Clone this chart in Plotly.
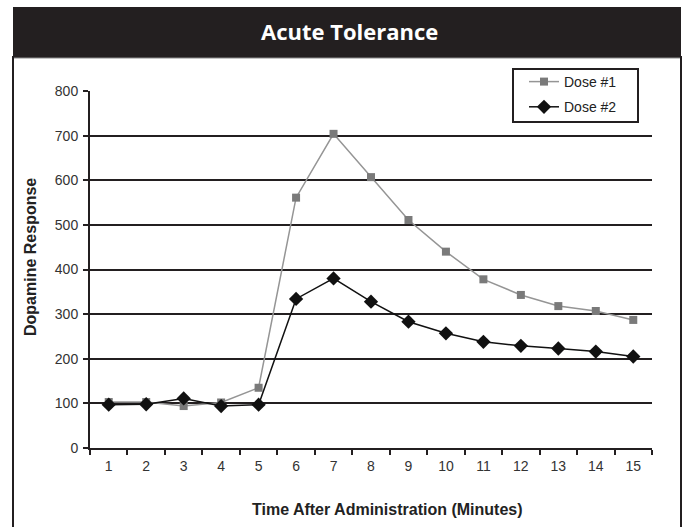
import plotly.graph_objects as go

# data
minutes = [str(m) for m in range(1, 16)]
dose1 = [103, 103, 94, 102, 135, 561, 704, 607, 511, 440, 378, 343, 318, 307, 287]
dose2 = [97, 98, 111, 94, 97, 334, 380, 328, 283, 257, 238, 229, 223, 216, 205]
y_ticks = [0, 100, 200, 300, 400, 500, 600, 700, 800]
grid_vals = [100, 200, 300, 400, 500, 600, 700]

FONT = "Liberation Sans, Arial, sans-serif"
DARK = "#231f20"

# plot area in pixels, used to place the frame and labels
PL, PR, PT, PB = 90, 652, 91, 448


def px(x):
    return (x - PL) / (PR - PL)


def py(y):
    return (PB - y) / (PB - PT)


fig = go.Figure()

fig.add_trace(go.Scatter(
    x=minutes, y=dose1, name="Dose #1", mode="lines+markers", legendgroup="a",
    line=dict(color="#959595", width=1.5),
    marker=dict(symbol="square", size=8, color="#7a7a7a"),
))
fig.add_trace(go.Scatter(
    x=minutes, y=dose2, name="Dose #2", mode="lines+markers", legendgroup="b",
    line=dict(color="#111111", width=1.5),
    marker=dict(symbol="diamond", size=11, color="#111111"),
))
# invisible trace that carries the gridline axis
fig.add_trace(go.Scatter(x=minutes, y=dose2, yaxis="y2", mode="none",
                         showlegend=False, hoverinfo="skip"))

fig.update_layout(
    width=684, height=527,
    margin=dict(l=PL, r=684 - PR, t=PT, b=527 - PB),
    paper_bgcolor="white", plot_bgcolor="white",
    font=dict(family=FONT, size=14, color="#333333"),
    xaxis=dict(
        type="category", tickson="boundaries", range=[-0.5, 14.5],
        showline=True, linecolor=DARK, linewidth=2,
        ticks="outside", ticklen=5, tickwidth=2, tickcolor=DARK,
        showgrid=False, zeroline=False, ticklabelstandoff=4,
        tickfont=dict(size=14, color="#333333"),
    ),
    yaxis=dict(
        range=[0, 800], tickvals=y_ticks,
        showline=True, linecolor=DARK, linewidth=2,
        ticks="outside", ticklen=5, tickwidth=2, tickcolor=DARK,
        showgrid=False, zeroline=False, ticklabelstandoff=2,
        tickfont=dict(size=14, color="#333333"),
    ),
    yaxis2=dict(
        overlaying="y", range=[0, 800], tickvals=grid_vals,
        showticklabels=False, showgrid=True, gridcolor=DARK, gridwidth=2,
        zeroline=False, showline=False,
    ),
    legend=dict(
        x=px(524), y=py(66), xanchor="left", yanchor="top",
        borderwidth=0, bgcolor="rgba(0,0,0,0)",
        font=dict(family=FONT, size=14, color="#222222"),
        itemwidth=30, tracegroupgap=4,
    ),
    showlegend=True,
)

# frame, title bar and legend box
fig.add_shape(type="rect", xref="paper", yref="paper",
              x0=px(13), x1=px(681), y0=py(540), y1=py(57),
              line=dict(color=DARK, width=2), fillcolor="rgba(0,0,0,0)", layer="below")
fig.add_shape(type="rect", xref="paper", yref="paper",
              x0=px(13), x1=px(681), y0=py(57), y1=py(7),
              line=dict(color=DARK, width=0), fillcolor=DARK, layer="below")
fig.add_shape(type="line", xref="paper", yref="paper",
              x0=px(14), x1=px(680), y0=py(58), y1=py(58),
              line=dict(color="#8c8c8c", width=1))
fig.add_shape(type="rect", xref="paper", yref="paper",
              x0=px(513), x1=px(638), y0=py(122), y1=py(69),
              line=dict(color=DARK, width=2), fillcolor="white", layer="below")

fig.add_annotation(text="<b>Acute Tolerance</b>", xref="paper", yref="paper",
                   x=px(349), y=py(31), showarrow=False,
                   xanchor="center", yanchor="middle",
                   font=dict(family="Open Sans, Lato, sans-serif", size=22, color="white"))
fig.add_annotation(text="<b>Time After Administration (Minutes)</b>",
                   xref="paper", yref="paper",
                   x=px(387), y=py(509), showarrow=False,
                   xanchor="center", yanchor="middle",
                   font=dict(family=FONT, size=16, color="#222222"))
fig.add_annotation(text="<b>Dopamine Response</b>", xref="paper", yref="paper",
                   x=px(30), y=py(257), showarrow=False,
                   textangle=-90, xanchor="center", yanchor="middle",
                   font=dict(family=FONT, size=16, color="#222222"))

fig.write_html("out.html", config={"displayModeBar": False},
               post_script="document.body.style.margin='0';")
